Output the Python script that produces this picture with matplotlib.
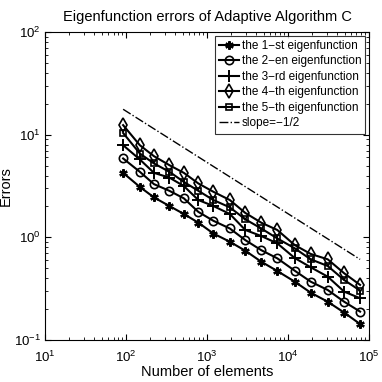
from matplotlib import pyplot as plt

# number of elements (same for every eigenfunction)
n_elem = [92, 148, 221, 343, 517, 781, 1197, 1911, 2966, 4673,
          7362, 12100, 19050, 30900, 49300, 77600]

err1 = [4.25, 3.10, 2.45, 2.02, 1.69, 1.39, 1.09, 0.906, 0.741, 0.579,
        0.470, 0.370, 0.289, 0.236, 0.185, 0.143]
err2 = [5.87, 4.35, 3.30, 2.84, 2.40, 1.77, 1.45, 1.22, 0.94, 0.75,
        0.625, 0.473, 0.370, 0.307, 0.236, 0.189]
err3 = [7.90, 5.74, 4.25, 3.82, 3.16, 2.31, 2.02, 1.69, 1.18, 1.03,
        0.874, 0.629, 0.511, 0.414, 0.296, 0.255]
err4 = [12.4, 7.90, 6.18, 5.05, 4.25, 3.35, 2.78, 2.31, 1.73, 1.39,
        1.18, 0.841, 0.689, 0.611, 0.447, 0.344]
err5 = [10.4, 6.56, 5.25, 4.35, 3.47, 2.84, 2.31, 1.96, 1.50, 1.22,
        0.977, 0.782, 0.611, 0.526, 0.384, 0.303]

slope_n = [92, 77600]
slope_err = [17.7, 0.61]

labels = ['the 1\u2212st eigenfunction', 'the 2\u2212en eigenfunction',
          'the 3\u2212rd eigenfunction', 'the 4\u2212th eigenfunction',
          'the 5\u2212th eigenfunction']

plt.rcParams['font.family'] = ['Liberation Sans', 'DejaVu Sans']
plt.rcParams['mathtext.fontset'] = 'custom'
plt.rcParams['mathtext.rm'] = 'Liberation Sans'
plt.rcParams['mathtext.it'] = 'Liberation Sans'

fig = plt.figure(figsize=(3.82, 3.82), dpi=100)
ax = fig.add_axes([0.118, 0.110, 0.848, 0.806])

ax.plot(n_elem, err1, color='k', lw=1.5, marker=(6, 2, 0), ms=6, mew=1.6,
        label=labels[0])
ax.plot(n_elem, err2, color='k', lw=1.5, marker='o', ms=6, mfc='none',
        mew=1.2, label=labels[1])
ax.plot(n_elem, err3, color='k', lw=1.5, marker='+', ms=8, mew=1.4,
        label=labels[2])
ax.plot(n_elem, err4, color='k', lw=1.5, marker='d', ms=7.5, mfc='none',
        mew=1.2, label=labels[3])
ax.plot(n_elem, err5, color='k', lw=1.5, marker='s', ms=5, mfc='none',
        mew=1.2, label=labels[4])
ax.plot(slope_n, slope_err, color='k', lw=1.0, linestyle='-.',
        label='slope=\u22121/2')

ax.set_xscale('log')
ax.set_yscale('log')
ax.set_xlim(10, 1e5)
ax.set_ylim(0.1, 100)

ax.tick_params(which='both', direction='in', top=True, right=True,
               labelsize=9.5)
ax.tick_params(axis='y', pad=3)
ax.tick_params(axis='x', pad=7)
ax.tick_params(which='major', length=4)
ax.tick_params(which='minor', length=2)

ax.set_title('Eigenfunction errors of Adaptive Algorithm C', fontsize=10.5,
             pad=8)
ax.set_xlabel('Number of elements', fontsize=10.5, labelpad=0)
ax.set_ylabel('Errors', fontsize=10.5, labelpad=1)

leg = ax.legend(loc='upper right', fontsize=8.5, frameon=True, fancybox=False,
                edgecolor='k', borderpad=0.35, labelspacing=0.3,
                handlelength=1.7, handletextpad=0.2, borderaxespad=0.3)
leg.get_frame().set_linewidth(0.8)

plt.savefig('out.png', dpi=100)
